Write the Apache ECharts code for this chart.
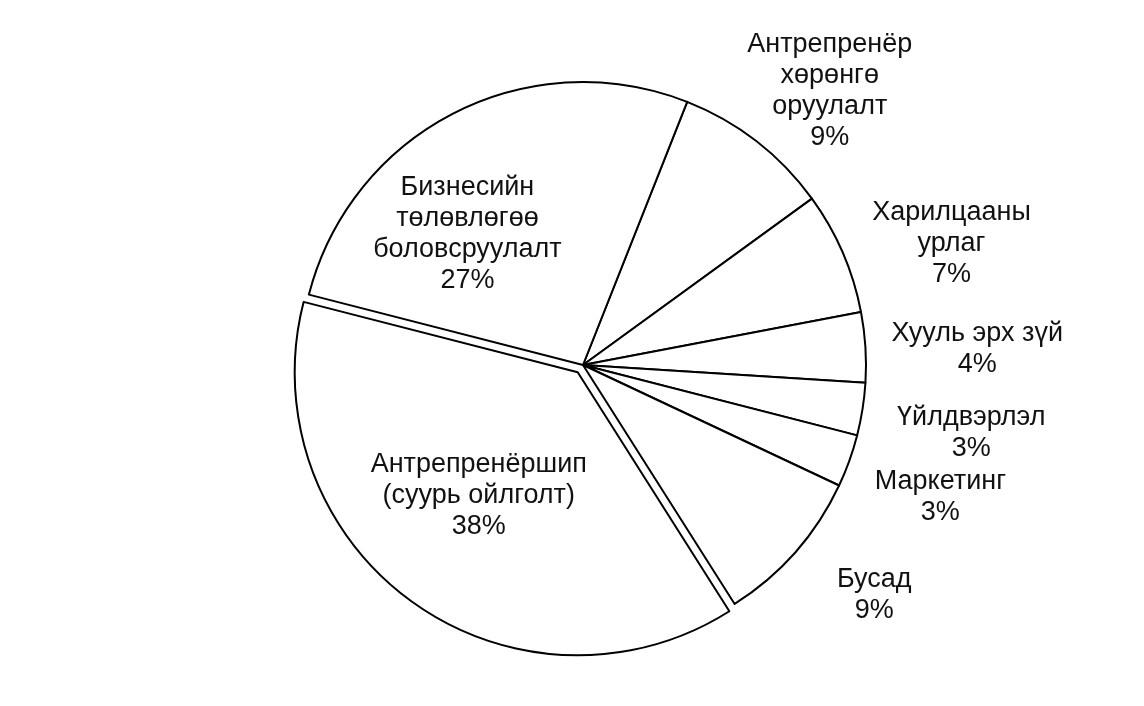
<!DOCTYPE html>
<html>
<head>
<meta charset="utf-8">
<title>Pie</title>
<script src="https://cdn.jsdelivr.net/npm/echarts@6/dist/echarts.min.js"></script>
<style>
  html, body { margin: 0; padding: 0; background: #ffffff; }
  #chart { width: 1144px; height: 706px; }
</style>
</head>
<body>
<div id="chart"></div>
<script>
// Topic names (line breaks as printed) and their shares, in percent
const categories = [
  'Антрепренёр\nхөрөнгө\nоруулалт',
  'Харилцааны\nурлаг',
  'Хууль эрх зүй',
  'Үйлдвэрлэл',
  'Маркетинг',
  'Бусад',
  'Антрепренёршип\n(суурь ойлголт)',
  'Бизнесийн\nтөлөвлөгөө\nболовсруулалт'
];
const shares = [9, 7, 4, 3, 3, 9, 38, 27];
// Slice pulled out from the pie
const explodedIndex = 6;
// Slices whose label sits inside the sector
const insideLabelled = [6, 7];

// Small per-label shifts [dx, dy] applied after the library places labels
const insideNudge = { 6: [-14, 6], 7: [-50, -2] };
const outsideNudge = { 0: [12, 29], 1: [17, 31], 2: [12, 8], 3: [10, 8], 4: [-3, 2], 5: [4, -23] };

const FONT = '"Liberation Sans", Arial, sans-serif';
const CENTER = [583, 365];
const START = 68.4;

const labelText = {
  color: '#111111',
  fontFamily: FONT,
  fontSize: 27,
  lineHeight: 31,
  align: 'center',
  verticalAlign: 'middle'
};

const sliceStyle = { color: '#ffffff', borderColor: '#000000', borderWidth: 2 };

const pieData = categories.map((name, i) => ({
  name: name,
  value: shares[i],
  selected: i === explodedIndex,
  label: { show: insideLabelled.indexOf(i) >= 0 }
}));

const ringData = categories.map((name, i) => ({
  name: name,
  value: shares[i],
  label: { show: insideLabelled.indexOf(i) < 0 }
}));

const chart = echarts.init(document.getElementById('chart'), null, { renderer: 'canvas' });

chart.setOption({
  backgroundColor: '#ffffff',
  animation: false,
  series: [
    {
      type: 'pie',
      center: CENTER,
      radius: [0, 283],
      startAngle: START,
      clockwise: true,
      avoidLabelOverlap: false,
      selectedMode: 'single',
      selectedOffset: 9,
      itemStyle: sliceStyle,
      select: { itemStyle: sliceStyle, label: labelText },
      emphasis: { disabled: true, scale: false },
      label: Object.assign({ position: 'inside', formatter: '{b}\n{c}%' }, labelText),
      labelLine: { show: false },
      labelLayout: function (p) {
        const n = insideNudge[p.dataIndex];
        return n ? { dx: n[0], dy: n[1] } : {};
      },
      data: pieData
    },
    {
      // Transparent ring carrying the outer labels along each slice's mid-angle
      type: 'pie',
      silent: true,
      center: CENTER,
      radius: [355, 405],
      startAngle: START,
      clockwise: true,
      avoidLabelOverlap: false,
      itemStyle: { color: 'rgba(0,0,0,0)', borderWidth: 0 },
      emphasis: { disabled: true, scale: false },
      label: Object.assign({ position: 'inside', formatter: '{b}\n{c}%' }, labelText),
      labelLine: { show: false },
      labelLayout: function (p) {
        const n = outsideNudge[p.dataIndex];
        return n ? { dx: n[0], dy: n[1] } : {};
      },
      data: ringData
    }
  ]
});
</script>
</body>
</html>
